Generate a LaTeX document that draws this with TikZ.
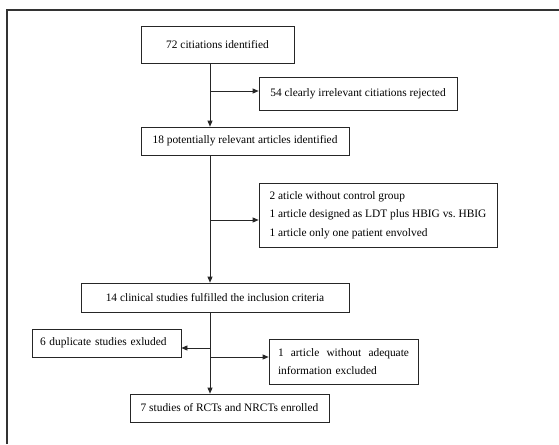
\documentclass[tikz,border=0pt]{standalone}
\usepackage{fontspec}
\setmainfont{Liberation Serif}
\usetikzlibrary{arrows.meta}

\begin{document}
\begin{tikzpicture}[x=1pt,y=-1pt,font=\fontsize{11.4}{18.5}\selectfont]
\tikzstyle{flowbox}=[draw=black!85,line width=0.7pt,inner xsep=8pt,inner ysep=0pt,anchor=center]
\tikzstyle{flowline}=[black!85,line width=0.7pt]
\tikzstyle{flowarrow}=[flowline,-{Triangle[length=6pt,width=5pt]}]
\useasboundingbox (0,0) rectangle (559,444);
% outer frame
\draw [black!80,line width=1.1pt] (7,444) -- (7,10) -- (559,10);
% boxes
\node [flowbox,minimum width=153pt,minimum height=37pt] (cite) at (217.5,44.5) {72 citiations identified};
\node [flowbox,minimum width=198pt,minimum height=33pt] (reject) at (358,93.5) {54 clearly irrelevant citiations rejected};
\node [flowbox,minimum width=208pt,minimum height=28pt] (relev) at (245,141) {18 potentially relevant articles identified};
\node [flowbox,minimum width=238pt,minimum height=64pt,align=left] (nocontrol) at (378,215)
  {2 aticle without control group\\ 1 article designed as LDT plus HBIG vs.\ HBIG\\ 1 article only one patient envolved};
\node [flowbox,minimum width=268pt,minimum height=29pt] (clin) at (215,297.5) {14 clinical studies fulfilled the inclusion criteria};
\node [flowbox,minimum width=149pt,minimum height=28pt,text width=133pt,align=left] (dupl) at (106.5,343) {6 duplicate studies exluded};
\node [flowbox,minimum width=149pt,minimum height=45pt,text width=131pt,align=left] (noinfo) at (343.5,361.5)
  {\hbox to 131pt{1\hfill article\hfill without\hfill adequate}\\ information excluded};
\node [flowbox,minimum width=199pt,minimum height=28pt] (enrol) at (229.5,408) {7 studies of RCTs and NRCTs enrolled};
% junctions on the main line
\coordinate (j1) at (210,91);
\coordinate (j2) at (210,220);
\coordinate (j3) at (210,348);
\coordinate (j4) at (210,357);
% connectors
\draw [flowline] (cite.south -| j1) -- (j1);
\draw [flowarrow] (j1) -- (relev.north -| j1);
\draw [flowarrow] (j1) -- (j1 -| reject.west);
\draw [flowline] (relev.south -| j2) -- (j2);
\draw [flowarrow] (j2) -- (clin.north -| j2);
\draw [flowarrow] (j2) -- (j2 -| nocontrol.west);
\draw [flowline] (clin.south -| j3) -- (j3);
\draw [flowarrow] (j3) -- (j3 -| dupl.east);
\draw [flowline] (j3) -- (j4);
\draw [flowarrow] (j4) -- (j4 -| noinfo.west);
\draw [flowarrow] (j4) -- (enrol.north -| j4);
\end{tikzpicture}
\end{document}
